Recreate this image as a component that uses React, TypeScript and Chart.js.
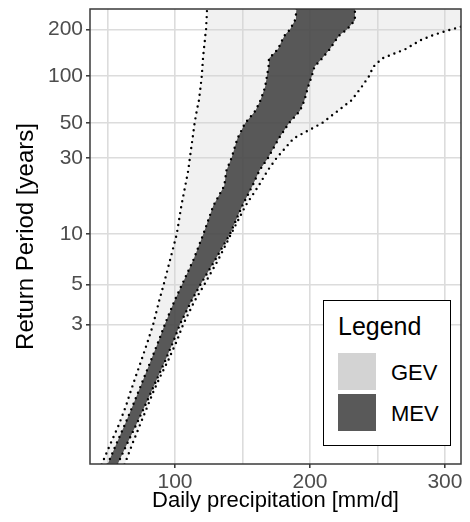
import React, { useEffect, useRef } from 'react';
import { Chart, registerables } from 'chart.js';

Chart.register(...registerables);

// Return periods (years) at which the band edges were read
const returnPeriods = [1.04, 1.1, 1.2, 1.35, 1.5, 1.75, 2, 2.5, 3, 4, 5, 7, 10, 15, 20, 25, 30, 40, 50, 60, 70, 85, 100, 115, 130, 150, 170, 185, 200, 230, 250, 275];

// GEV confidence band (daily precipitation, mm/d)
const gevLower = [45.6, 52.1, 58.5, 63.8, 67.1, 71.5, 75.0, 80.1, 83.8, 88.1, 91.6, 96.4, 101.3, 104.7, 107.6, 109.8, 111.0, 113.0, 114.5, 116.1, 117.7, 118.9, 119.8, 120.3, 120.7, 121.4, 122.1, 122.5, 123.0, 123.3, 123.6, 123.7];
const gevUpper = [62.6, 68.4, 74.2, 79.9, 84.0, 89.9, 94.9, 101.6, 106.0, 114.3, 121.8, 132.1, 141.5, 152.3, 162.0, 168.7, 175.3, 187.9, 208.9, 220.7, 230.7, 238.1, 243.7, 246.9, 253.3, 271.1, 281.5, 291.9, 304.4, 329.6, 344.4, 359.3];

// MEV confidence band (daily precipitation, mm/d)
const mevLower = [50.0, 56.5, 62.9, 68.8, 72.9, 78.1, 82.1, 88.1, 92.4, 99.4, 105.2, 113.7, 121.0, 128.4, 136.5, 138.1, 141.9, 146.3, 151.9, 159.6, 163.3, 166.7, 168.1, 169.3, 169.6, 176.3, 179.3, 181.5, 185.2, 188.9, 189.6, 190.0];
const mevUpper = [57.4, 64.4, 71.4, 77.9, 82.5, 88.3, 92.8, 99.2, 103.6, 111.9, 118.9, 129.9, 140.7, 149.9, 157.4, 162.6, 168.9, 177.0, 184.4, 192.6, 195.9, 198.5, 201.3, 203.3, 208.9, 214.8, 218.9, 222.2, 227.4, 233.3, 233.3, 233.3];

// Axis ticks
const yTickPeriods = [3, 5, 10, 30, 50, 100, 200];
const xGridValues = [50, 100, 150, 200, 250, 300];
const xLabelValues = [100, 200, 300];
const yRangePeriods = [1.041, 271.4];
const xRange = [37.0, 311.9];

const legendItems = ['GEV', 'MEV'];

// Gumbel reduced variate of a return period
const gumbel = (T: number) => -Math.log(-Math.log(1 - 1 / T));

const FONT = "'Liberation Sans', Arial, Helvetica, sans-serif";
const GEV_FILL = 'rgba(211,211,211,0.33)';
const MEV_FILL = 'rgba(66,66,66,0.87)';

const pts = (vals: number[]) => vals.map((v, i) => ({ x: v, y: gumbel(returnPeriods[i]) }));
const band = (lo: number[], hi: number[]) => [...pts(lo), ...pts(hi).reverse()];

const dotted = (vals: number[]) => ({
  data: pts(vals),
  borderColor: '#000',
  borderWidth: 2.4,
  borderDash: [0, 6],
  borderCapStyle: 'round' as const,
  pointRadius: 0,
  fill: false,
  order: 1,
  clip: 0,
});

const panelBorder = {
  id: 'panelBorder',
  afterDraw(chart: any) {
    const { ctx, chartArea: a } = chart;
    ctx.save();
    ctx.strokeStyle = '#3a3a3a';
    ctx.lineWidth = 1.5;
    ctx.strokeRect(a.left, a.top, a.right - a.left, a.bottom - a.top);
    ctx.restore();
  },
};

export default function App() {
  const ref = useRef<HTMLCanvasElement>(null);

  useEffect(() => {
    if (!ref.current) return;
    const chart = new Chart(ref.current, {
      type: 'line',
      data: {
        datasets: [
          {
            data: band(gevLower, gevUpper),
            borderColor: 'transparent',
            borderWidth: 0,
            backgroundColor: GEV_FILL,
            pointRadius: 0,
            fill: 'shape',
            order: 3,
            clip: 0,
          } as any,
          {
            data: band(mevLower, mevUpper),
            borderColor: 'transparent',
            borderWidth: 0,
            backgroundColor: MEV_FILL,
            pointRadius: 0,
            fill: 'shape',
            order: 2,
            clip: 0,
          } as any,
          dotted(gevLower),
          dotted(gevUpper),
          dotted(mevLower),
          dotted(mevUpper),
        ],
      },
      options: {
        responsive: false,
        animation: false,
        devicePixelRatio: 1,
        events: [],
        layout: { padding: { top: 9, right: 9, left: 0, bottom: 0 } },
        plugins: { legend: { display: false }, tooltip: { enabled: false } },
        scales: {
          x: {
            type: 'linear',
            min: xRange[0],
            max: xRange[1],
            afterFit: (s: any) => { s.height = 58; s.paddingLeft = 0; s.paddingRight = 0; },
            afterBuildTicks: (s: any) => { s.ticks = xGridValues.map((v) => ({ value: v })); },
            ticks: {
              autoSkip: false,
              maxRotation: 0,
              padding: 2,
              color: '#4d4d4d',
              font: { family: FONT, size: 21 },
              callback: (v: any) => (xLabelValues.includes(Number(v)) ? String(v) : ''),
            },
            grid: {
              color: '#dcdcdc',
              lineWidth: 1.6,
              tickLength: 4,
              tickWidth: 1.5,
              tickColor: (c: any) => (c.tick && xLabelValues.includes(c.tick.value) ? '#333' : 'rgba(0,0,0,0)'),
            },
            border: { display: false },
            title: {
              display: true,
              text: 'Daily precipitation [mm/d]',
              color: '#000',
              font: { family: FONT, size: 22 },
              padding: { top: 0, bottom: 8 },
            },
          },
          y: {
            type: 'linear',
            min: gumbel(yRangePeriods[0]),
            max: gumbel(yRangePeriods[1]),
            afterFit: (s: any) => { s.width = 90; s.paddingTop = 0; s.paddingBottom = 0; },
            afterBuildTicks: (s: any) => { s.ticks = yTickPeriods.map((t) => ({ value: gumbel(t) })); },
            ticks: {
              autoSkip: false,
              padding: 3,
              color: '#4d4d4d',
              font: { family: FONT, size: 21 },
              callback: (_v: any, i: number) => String(yTickPeriods[i]),
            },
            grid: {
              color: '#dcdcdc',
              lineWidth: 1.6,
              tickLength: 4,
              tickWidth: 1.5,
              tickColor: '#333',
            },
            border: { display: false },
            title: {
              display: true,
              text: 'Return Period [years]',
              color: '#000',
              font: { family: FONT, size: 24 },
              padding: { top: 12, bottom: 0 },
            },
          },
        },
      } as any,
      plugins: [panelBorder],
    });
    return () => chart.destroy();
  }, []);

  const swatch = (color: string, top: number) => ({
    position: 'absolute' as const,
    left: 338,
    top,
    width: 38,
    height: 37,
    background: color,
  });
  const label = (top: number) => ({
    position: 'absolute' as const,
    left: 391,
    top,
    fontFamily: FONT,
    fontSize: 22,
    lineHeight: '22px',
    color: '#000',
    whiteSpace: 'nowrap' as const,
  });

  return (
    <div style={{ position: 'fixed', left: 0, top: 0, width: 470, height: 522, background: '#fff' }}>
      <canvas ref={ref} width={470} height={522} style={{ display: 'block', width: 470, height: 522 }} />
      <div
        style={{
          position: 'absolute',
          left: 323,
          top: 300,
          width: 128,
          height: 146,
          boxSizing: 'border-box',
          border: '1.5px solid #000',
          background: '#fff',
        }}
      />
      <div style={{ position: 'absolute', left: 338, top: 314, fontFamily: FONT, fontSize: 25, lineHeight: '25px', color: '#000' }}>Legend</div>
      <div style={swatch('#d3d3d3', 353)} />
      <div style={swatch('#595959', 394)} />
      <div style={label(362)}>{legendItems[0]}</div>
      <div style={label(403)}>{legendItems[1]}</div>
    </div>
  );
}
